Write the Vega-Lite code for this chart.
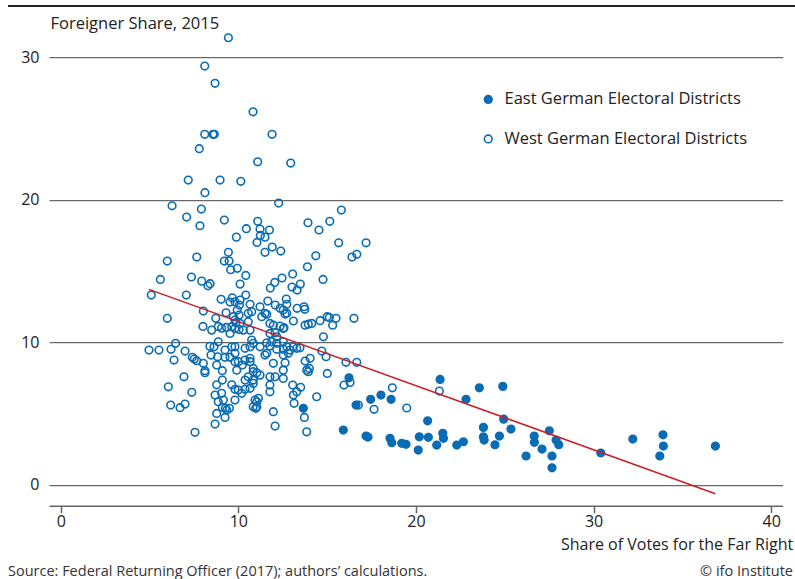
{
  "$schema": "https://vega.github.io/schema/vega-lite/v6.json",
  "width": 733.7,
  "height": 469.5,
  "autosize": {"type": "none"},
  "padding": {"left": 49, "top": 36.2, "right": 12.3, "bottom": 73.3},
  "background": "white",
  "config": {
    "view": {"stroke": null},
    "font": "Open Sans",
    "axis": {"labelFont": "Open Sans", "titleFont": "Open Sans", "labelColor": "#222", "titleColor": "#222", "titleFontWeight": "normal"},
    "legend": {"labelFont": "Open Sans"}
  },
  "datasets": {
    "pts": [
      {"vote": 9.44, "foreign": 31.39, "group": "W"},
      {"vote": 8.11, "foreign": 29.40, "group": "W"},
      {"vote": 8.69, "foreign": 28.19, "group": "W"},
      {"vote": 10.83, "foreign": 26.19, "group": "W"},
      {"vote": 8.11, "foreign": 24.61, "group": "W"},
      {"vote": 8.57, "foreign": 24.61, "group": "W"},
      {"vote": 8.65, "foreign": 24.61, "group": "W"},
      {"vote": 11.90, "foreign": 24.61, "group": "W"},
      {"vote": 7.80, "foreign": 23.60, "group": "W"},
      {"vote": 11.09, "foreign": 22.68, "group": "W"},
      {"vote": 12.95, "foreign": 22.59, "group": "W"},
      {"vote": 7.18, "foreign": 21.40, "group": "W"},
      {"vote": 8.97, "foreign": 21.40, "group": "W"},
      {"vote": 10.14, "foreign": 21.31, "group": "W"},
      {"vote": 8.12, "foreign": 20.51, "group": "W"},
      {"vote": 12.27, "foreign": 19.78, "group": "W"},
      {"vote": 6.27, "foreign": 19.59, "group": "W"},
      {"vote": 7.92, "foreign": 19.36, "group": "W"},
      {"vote": 7.09, "foreign": 18.80, "group": "W"},
      {"vote": 7.84, "foreign": 18.19, "group": "W"},
      {"vote": 9.21, "foreign": 18.59, "group": "W"},
      {"vote": 11.09, "foreign": 18.50, "group": "W"},
      {"vote": 10.45, "foreign": 17.98, "group": "W"},
      {"vote": 11.22, "foreign": 17.96, "group": "W"},
      {"vote": 11.75, "foreign": 17.89, "group": "W"},
      {"vote": 9.89, "foreign": 17.39, "group": "W"},
      {"vote": 11.24, "foreign": 17.51, "group": "W"},
      {"vote": 11.50, "foreign": 17.39, "group": "W"},
      {"vote": 11.05, "foreign": 17.02, "group": "W"},
      {"vote": 11.91, "foreign": 16.69, "group": "W"},
      {"vote": 12.39, "foreign": 16.41, "group": "W"},
      {"vote": 11.50, "foreign": 16.32, "group": "W"},
      {"vote": 13.92, "foreign": 18.40, "group": "W"},
      {"vote": 14.54, "foreign": 17.89, "group": "W"},
      {"vote": 15.15, "foreign": 18.50, "group": "W"},
      {"vote": 15.80, "foreign": 19.29, "group": "W"},
      {"vote": 15.65, "foreign": 16.99, "group": "W"},
      {"vote": 17.19, "foreign": 16.99, "group": "W"},
      {"vote": 16.40, "foreign": 15.99, "group": "W"},
      {"vote": 16.67, "foreign": 16.18, "group": "W"},
      {"vote": 14.36, "foreign": 16.08, "group": "W"},
      {"vote": 13.89, "foreign": 15.31, "group": "W"},
      {"vote": 14.77, "foreign": 14.42, "group": "W"},
      {"vote": 13.06, "foreign": 14.80, "group": "W"},
      {"vote": 13.02, "foreign": 13.88, "group": "W"},
      {"vote": 13.31, "foreign": 13.67, "group": "W"},
      {"vote": 13.49, "foreign": 14.09, "group": "W"},
      {"vote": 12.46, "foreign": 14.52, "group": "W"},
      {"vote": 12.05, "foreign": 14.21, "group": "W"},
      {"vote": 11.80, "foreign": 13.81, "group": "W"},
      {"vote": 12.70, "foreign": 13.04, "group": "W"},
      {"vote": 6.00, "foreign": 15.71, "group": "W"},
      {"vote": 5.61, "foreign": 14.42, "group": "W"},
      {"vote": 5.10, "foreign": 13.32, "group": "W"},
      {"vote": 7.66, "foreign": 15.99, "group": "W"},
      {"vote": 7.36, "foreign": 14.59, "group": "W"},
      {"vote": 7.94, "foreign": 14.30, "group": "W"},
      {"vote": 8.29, "foreign": 13.97, "group": "W"},
      {"vote": 8.41, "foreign": 14.12, "group": "W"},
      {"vote": 7.07, "foreign": 13.32, "group": "W"},
      {"vote": 9.21, "foreign": 15.71, "group": "W"},
      {"vote": 9.48, "foreign": 15.71, "group": "W"},
      {"vote": 9.44, "foreign": 16.32, "group": "W"},
      {"vote": 9.57, "foreign": 15.10, "group": "W"},
      {"vote": 9.94, "foreign": 15.20, "group": "W"},
      {"vote": 10.42, "foreign": 14.70, "group": "W"},
      {"vote": 10.10, "foreign": 14.09, "group": "W"},
      {"vote": 10.42, "foreign": 13.32, "group": "W"},
      {"vote": 9.03, "foreign": 13.02, "group": "W"},
      {"vote": 9.66, "foreign": 13.13, "group": "W"},
      {"vote": 10.10, "foreign": 12.97, "group": "W"},
      {"vote": 11.66, "foreign": 12.90, "group": "W"},
      {"vote": 9.53, "foreign": 12.83, "group": "W"},
      {"vote": 10.66, "foreign": 12.67, "group": "W"},
      {"vote": 11.22, "foreign": 12.50, "group": "W"},
      {"vote": 12.08, "foreign": 12.62, "group": "W"},
      {"vote": 12.35, "foreign": 12.39, "group": "W"},
      {"vote": 12.73, "foreign": 12.67, "group": "W"},
      {"vote": 13.31, "foreign": 12.39, "group": "W"},
      {"vote": 13.70, "foreign": 12.50, "group": "W"},
      {"vote": 13.74, "foreign": 12.32, "group": "W"},
      {"vote": 8.03, "foreign": 12.20, "group": "W"},
      {"vote": 6.00, "foreign": 11.69, "group": "W"},
      {"vote": 8.73, "foreign": 11.69, "group": "W"},
      {"vote": 9.31, "foreign": 12.08, "group": "W"},
      {"vote": 9.72, "foreign": 11.80, "group": "W"},
      {"vote": 9.94, "foreign": 12.27, "group": "W"},
      {"vote": 10.04, "foreign": 11.92, "group": "W"},
      {"vote": 9.87, "foreign": 11.38, "group": "W"},
      {"vote": 10.10, "foreign": 11.33, "group": "W"},
      {"vote": 10.56, "foreign": 11.45, "group": "W"},
      {"vote": 10.56, "foreign": 12.04, "group": "W"},
      {"vote": 11.32, "foreign": 11.80, "group": "W"},
      {"vote": 11.60, "foreign": 11.97, "group": "W"},
      {"vote": 11.97, "foreign": 11.21, "group": "W"},
      {"vote": 11.78, "foreign": 11.33, "group": "W"},
      {"vote": 12.35, "foreign": 11.14, "group": "W"},
      {"vote": 12.57, "foreign": 11.03, "group": "W"},
      {"vote": 12.63, "foreign": 11.99, "group": "W"},
      {"vote": 13.10, "foreign": 11.50, "group": "W"},
      {"vote": 14.60, "foreign": 11.52, "group": "W"},
      {"vote": 15.00, "foreign": 11.80, "group": "W"},
      {"vote": 15.12, "foreign": 11.75, "group": "W"},
      {"vote": 15.50, "foreign": 11.69, "group": "W"},
      {"vote": 15.31, "foreign": 11.21, "group": "W"},
      {"vote": 16.51, "foreign": 11.69, "group": "W"},
      {"vote": 13.76, "foreign": 11.21, "group": "W"},
      {"vote": 13.94, "foreign": 11.28, "group": "W"},
      {"vote": 14.13, "foreign": 11.33, "group": "W"},
      {"vote": 14.79, "foreign": 10.39, "group": "W"},
      {"vote": 9.81, "foreign": 12.85, "group": "W"},
      {"vote": 10.06, "foreign": 12.62, "group": "W"},
      {"vote": 10.75, "foreign": 12.15, "group": "W"},
      {"vote": 9.81, "foreign": 11.57, "group": "W"},
      {"vote": 9.63, "foreign": 11.10, "group": "W"},
      {"vote": 9.81, "foreign": 10.98, "group": "W"},
      {"vote": 10.04, "foreign": 10.91, "group": "W"},
      {"vote": 10.28, "foreign": 10.86, "group": "W"},
      {"vote": 10.66, "foreign": 10.86, "group": "W"},
      {"vote": 10.75, "foreign": 10.16, "group": "W"},
      {"vote": 8.01, "foreign": 11.12, "group": "W"},
      {"vote": 8.50, "foreign": 10.86, "group": "W"},
      {"vote": 8.87, "foreign": 11.12, "group": "W"},
      {"vote": 9.06, "foreign": 11.00, "group": "W"},
      {"vote": 9.34, "foreign": 11.05, "group": "W"},
      {"vote": 9.53, "foreign": 10.63, "group": "W"},
      {"vote": 8.87, "foreign": 10.04, "group": "W"},
      {"vote": 11.50, "foreign": 12.04, "group": "W"},
      {"vote": 12.53, "foreign": 12.27, "group": "W"},
      {"vote": 12.73, "foreign": 12.04, "group": "W"},
      {"vote": 11.78, "foreign": 10.63, "group": "W"},
      {"vote": 12.07, "foreign": 10.67, "group": "W"},
      {"vote": 12.16, "foreign": 10.39, "group": "W"},
      {"vote": 12.53, "foreign": 10.98, "group": "W"},
      {"vote": 10.84, "foreign": 9.93, "group": "W"},
      {"vote": 11.22, "foreign": 9.69, "group": "W"},
      {"vote": 11.60, "foreign": 9.97, "group": "W"},
      {"vote": 11.78, "foreign": 9.74, "group": "W"},
      {"vote": 11.88, "foreign": 10.04, "group": "W"},
      {"vote": 12.16, "foreign": 9.93, "group": "W"},
      {"vote": 12.16, "foreign": 9.51, "group": "W"},
      {"vote": 12.53, "foreign": 10.04, "group": "W"},
      {"vote": 12.53, "foreign": 9.51, "group": "W"},
      {"vote": 12.73, "foreign": 9.69, "group": "W"},
      {"vote": 12.91, "foreign": 9.46, "group": "W"},
      {"vote": 13.10, "foreign": 9.69, "group": "W"},
      {"vote": 13.29, "foreign": 9.58, "group": "W"},
      {"vote": 13.47, "foreign": 9.62, "group": "W"},
      {"vote": 11.50, "foreign": 9.11, "group": "W"},
      {"vote": 12.53, "foreign": 9.11, "group": "W"},
      {"vote": 12.82, "foreign": 9.23, "group": "W"},
      {"vote": 14.70, "foreign": 9.39, "group": "W"},
      {"vote": 14.94, "foreign": 8.99, "group": "W"},
      {"vote": 13.76, "foreign": 8.69, "group": "W"},
      {"vote": 14.04, "foreign": 8.88, "group": "W"},
      {"vote": 13.85, "foreign": 8.05, "group": "W"},
      {"vote": 13.94, "foreign": 7.94, "group": "W"},
      {"vote": 14.00, "foreign": 8.17, "group": "W"},
      {"vote": 15.01, "foreign": 7.82, "group": "W"},
      {"vote": 16.06, "foreign": 8.60, "group": "W"},
      {"vote": 16.67, "foreign": 8.60, "group": "W"},
      {"vote": 11.97, "foreign": 8.53, "group": "W"},
      {"vote": 12.63, "foreign": 8.57, "group": "W"},
      {"vote": 12.53, "foreign": 8.05, "group": "W"},
      {"vote": 12.53, "foreign": 7.47, "group": "W"},
      {"vote": 12.07, "foreign": 7.58, "group": "W"},
      {"vote": 11.78, "foreign": 7.58, "group": "W"},
      {"vote": 11.78, "foreign": 7.00, "group": "W"},
      {"vote": 11.78, "foreign": 6.53, "group": "W"},
      {"vote": 11.60, "foreign": 9.23, "group": "W"},
      {"vote": 10.66, "foreign": 8.88, "group": "W"},
      {"vote": 10.66, "foreign": 8.64, "group": "W"},
      {"vote": 10.84, "foreign": 8.17, "group": "W"},
      {"vote": 11.04, "foreign": 7.86, "group": "W"},
      {"vote": 11.22, "foreign": 7.70, "group": "W"},
      {"vote": 10.84, "foreign": 7.35, "group": "W"},
      {"vote": 10.66, "foreign": 6.77, "group": "W"},
      {"vote": 10.94, "foreign": 5.95, "group": "W"},
      {"vote": 11.13, "foreign": 6.07, "group": "W"},
      {"vote": 11.04, "foreign": 5.48, "group": "W"},
      {"vote": 11.97, "foreign": 5.13, "group": "W"},
      {"vote": 12.07, "foreign": 4.12, "group": "W"},
      {"vote": 13.06, "foreign": 7.00, "group": "W"},
      {"vote": 13.51, "foreign": 6.84, "group": "W"},
      {"vote": 13.29, "foreign": 6.53, "group": "W"},
      {"vote": 13.10, "foreign": 6.30, "group": "W"},
      {"vote": 13.14, "foreign": 5.72, "group": "W"},
      {"vote": 14.41, "foreign": 6.18, "group": "W"},
      {"vote": 13.72, "foreign": 4.73, "group": "W"},
      {"vote": 13.85, "foreign": 3.72, "group": "W"},
      {"vote": 4.97, "foreign": 9.46, "group": "W"},
      {"vote": 5.53, "foreign": 9.46, "group": "W"},
      {"vote": 6.21, "foreign": 9.51, "group": "W"},
      {"vote": 6.47, "foreign": 9.93, "group": "W"},
      {"vote": 6.38, "foreign": 8.76, "group": "W"},
      {"vote": 7.00, "foreign": 9.39, "group": "W"},
      {"vote": 7.41, "foreign": 8.95, "group": "W"},
      {"vote": 7.52, "foreign": 8.83, "group": "W"},
      {"vote": 7.66, "foreign": 8.71, "group": "W"},
      {"vote": 8.03, "foreign": 8.53, "group": "W"},
      {"vote": 8.12, "foreign": 8.01, "group": "W"},
      {"vote": 8.12, "foreign": 7.87, "group": "W"},
      {"vote": 8.63, "foreign": 9.69, "group": "W"},
      {"vote": 8.40, "foreign": 9.72, "group": "W"},
      {"vote": 8.46, "foreign": 9.11, "group": "W"},
      {"vote": 8.84, "foreign": 8.99, "group": "W"},
      {"vote": 9.25, "foreign": 8.95, "group": "W"},
      {"vote": 9.53, "foreign": 8.95, "group": "W"},
      {"vote": 9.81, "foreign": 9.23, "group": "W"},
      {"vote": 10.00, "foreign": 8.64, "group": "W"},
      {"vote": 9.81, "foreign": 8.64, "group": "W"},
      {"vote": 9.91, "foreign": 8.05, "group": "W"},
      {"vote": 10.23, "foreign": 8.41, "group": "W"},
      {"vote": 10.38, "foreign": 8.76, "group": "W"},
      {"vote": 10.66, "foreign": 9.69, "group": "W"},
      {"vote": 10.38, "foreign": 9.58, "group": "W"},
      {"vote": 9.81, "foreign": 9.69, "group": "W"},
      {"vote": 9.63, "foreign": 9.69, "group": "W"},
      {"vote": 9.25, "foreign": 9.46, "group": "W"},
      {"vote": 8.78, "foreign": 8.41, "group": "W"},
      {"vote": 9.10, "foreign": 8.01, "group": "W"},
      {"vote": 6.94, "foreign": 7.58, "group": "W"},
      {"vote": 6.06, "foreign": 6.88, "group": "W"},
      {"vote": 7.38, "foreign": 6.49, "group": "W"},
      {"vote": 6.19, "foreign": 5.60, "group": "W"},
      {"vote": 6.72, "foreign": 5.41, "group": "W"},
      {"vote": 7.00, "foreign": 5.67, "group": "W"},
      {"vote": 7.56, "foreign": 3.68, "group": "W"},
      {"vote": 8.69, "foreign": 6.30, "group": "W"},
      {"vote": 9.06, "foreign": 6.42, "group": "W"},
      {"vote": 9.16, "foreign": 5.95, "group": "W"},
      {"vote": 8.87, "foreign": 5.83, "group": "W"},
      {"vote": 9.10, "foreign": 5.44, "group": "W"},
      {"vote": 9.35, "foreign": 5.25, "group": "W"},
      {"vote": 9.27, "foreign": 5.37, "group": "W"},
      {"vote": 9.50, "foreign": 5.37, "group": "W"},
      {"vote": 8.78, "foreign": 5.01, "group": "W"},
      {"vote": 9.25, "foreign": 4.73, "group": "W"},
      {"vote": 8.69, "foreign": 4.26, "group": "W"},
      {"vote": 8.78, "foreign": 7.02, "group": "W"},
      {"vote": 9.10, "foreign": 7.35, "group": "W"},
      {"vote": 9.63, "foreign": 7.02, "group": "W"},
      {"vote": 9.81, "foreign": 6.70, "group": "W"},
      {"vote": 10.00, "foreign": 6.65, "group": "W"},
      {"vote": 10.38, "foreign": 6.70, "group": "W"},
      {"vote": 10.38, "foreign": 7.35, "group": "W"},
      {"vote": 10.56, "foreign": 7.58, "group": "W"},
      {"vote": 10.84, "foreign": 7.94, "group": "W"},
      {"vote": 10.84, "foreign": 7.12, "group": "W"},
      {"vote": 9.81, "foreign": 5.95, "group": "W"},
      {"vote": 10.19, "foreign": 6.42, "group": "W"},
      {"vote": 10.84, "foreign": 5.48, "group": "W"},
      {"vote": 11.04, "foreign": 5.83, "group": "W"},
      {"vote": 10.98, "foreign": 5.37, "group": "W"},
      {"vote": 15.95, "foreign": 7.00, "group": "W"},
      {"vote": 17.64, "foreign": 5.30, "group": "W"},
      {"vote": 16.29, "foreign": 7.19, "group": "W"},
      {"vote": 16.76, "foreign": 5.60, "group": "W"},
      {"vote": 18.67, "foreign": 6.81, "group": "W"},
      {"vote": 19.48, "foreign": 5.39, "group": "W"},
      {"vote": 21.32, "foreign": 6.58, "group": "W"},
      {"vote": 13.66, "foreign": 5.37, "group": "E"},
      {"vote": 16.23, "foreign": 7.51, "group": "E"},
      {"vote": 16.63, "foreign": 5.60, "group": "E"},
      {"vote": 17.45, "foreign": 6.00, "group": "E"},
      {"vote": 18.03, "foreign": 6.30, "group": "E"},
      {"vote": 18.60, "foreign": 6.00, "group": "E"},
      {"vote": 21.36, "foreign": 7.40, "group": "E"},
      {"vote": 23.57, "foreign": 6.81, "group": "E"},
      {"vote": 22.82, "foreign": 6.00, "group": "E"},
      {"vote": 24.89, "foreign": 6.91, "group": "E"},
      {"vote": 24.94, "foreign": 4.61, "group": "E"},
      {"vote": 25.35, "foreign": 3.91, "group": "E"},
      {"vote": 15.91, "foreign": 3.84, "group": "E"},
      {"vote": 17.19, "foreign": 3.42, "group": "E"},
      {"vote": 17.30, "foreign": 3.35, "group": "E"},
      {"vote": 18.54, "foreign": 3.26, "group": "E"},
      {"vote": 18.64, "foreign": 2.95, "group": "E"},
      {"vote": 19.20, "foreign": 2.91, "group": "E"},
      {"vote": 19.44, "foreign": 2.84, "group": "E"},
      {"vote": 20.19, "foreign": 3.37, "group": "E"},
      {"vote": 20.66, "foreign": 4.49, "group": "E"},
      {"vote": 20.70, "foreign": 3.33, "group": "E"},
      {"vote": 20.13, "foreign": 2.44, "group": "E"},
      {"vote": 21.17, "foreign": 2.79, "group": "E"},
      {"vote": 21.51, "foreign": 3.61, "group": "E"},
      {"vote": 21.55, "foreign": 3.26, "group": "E"},
      {"vote": 22.30, "foreign": 2.79, "group": "E"},
      {"vote": 22.67, "foreign": 3.02, "group": "E"},
      {"vote": 23.80, "foreign": 4.03, "group": "E"},
      {"vote": 23.80, "foreign": 3.37, "group": "E"},
      {"vote": 23.84, "foreign": 3.14, "group": "E"},
      {"vote": 24.70, "foreign": 3.42, "group": "E"},
      {"vote": 24.45, "foreign": 2.81, "group": "E"},
      {"vote": 26.66, "foreign": 3.42, "group": "E"},
      {"vote": 26.67, "foreign": 2.98, "group": "E"},
      {"vote": 26.20, "foreign": 2.02, "group": "E"},
      {"vote": 27.10, "foreign": 2.51, "group": "E"},
      {"vote": 27.51, "foreign": 3.79, "group": "E"},
      {"vote": 27.66, "foreign": 2.02, "group": "E"},
      {"vote": 27.66, "foreign": 1.19, "group": "E"},
      {"vote": 27.89, "foreign": 3.14, "group": "E"},
      {"vote": 28.04, "foreign": 2.81, "group": "E"},
      {"vote": 30.41, "foreign": 2.23, "group": "E"},
      {"vote": 32.21, "foreign": 3.21, "group": "E"},
      {"vote": 33.91, "foreign": 3.51, "group": "E"},
      {"vote": 33.93, "foreign": 2.72, "group": "E"},
      {"vote": 33.73, "foreign": 2.02, "group": "E"},
      {"vote": 36.86, "foreign": 2.72, "group": "E"}
    ],
    "fit": [
      {"vote": 4.97, "foreign": 13.72},
      {"vote": 36.86, "foreign": -0.63}
    ]
  },
  "layer": [
    {
      "data": {"name": "pts"},
      "mark": {"type": "point", "filled": true, "size": 58, "stroke": "#0a6cb4", "strokeWidth": 1.6, "opacity": 1},
      "encoding": {
        "x": {
          "field": "vote", "type": "quantitative",
          "scale": {"domain": [-0.66, 40.65], "nice": false, "zero": false},
          "axis": {
            "values": [0, 10, 20, 30, 40],
            "title": "Share of Votes for the Far Right",
            "grid": false,
            "domainColor": "#666", "domainWidth": 1.5,
            "tickColor": "#666", "tickSize": 7, "tickWidth": 1.5,
            "labelFontSize": 16, "labelPadding": 1, "labelFlush": false,
            "titleFontSize": 16, "titleAnchor": "end", "titleAlign": "right",
            "titleX": 743.7, "titleY": 43.5, "titleBaseline": "alphabetic"
          }
        },
        "y": {
          "field": "foreign", "type": "quantitative",
          "scale": {"domain": [-1.47, 31.5], "nice": false, "zero": false},
          "axis": {
            "values": [0, 10, 20, 30],
            "title": "Foreigner Share, 2015",
            "grid": true, "gridColor": "#444", "gridWidth": 1,
            "domain": false, "ticks": false,
            "labelPadding": 10, "labelFontSize": 16,
            "titleAngle": 0, "titleAlign": "left", "titleFontSize": 16.5,
            "titleX": 1, "titleY": -7.5, "titleBaseline": "alphabetic"
          }
        },
        "fill": {
          "field": "group", "type": "nominal",
          "scale": {"domain": ["E", "W"], "range": ["#0a6cb4", "transparent"]},
          "legend": {
            "title": null, "orient": "none", "legendX": 431, "legendY": 55,
            "labelExpr": "datum.value == 'E' ? 'East German Electoral Districts' : 'West German Electoral Districts'",
            "labelFontSize": 16.5, "labelColor": "#222", "labelOffset": 8, "labelLimit": 0,
            "symbolType": "circle", "symbolSize": 60,
            "symbolStrokeColor": "#0a6cb4", "symbolStrokeWidth": 1.6,
            "rowPadding": 22.5
          }
        }
      }
    },
    {
      "data": {"name": "fit"},
      "mark": {"type": "line", "color": "#c8202a", "strokeWidth": 1.5},
      "encoding": {
        "x": {"field": "vote", "type": "quantitative"},
        "y": {"field": "foreign", "type": "quantitative"}
      }
    },
    {
      "data": {"values": [{}]},
      "mark": {"type": "rule", "color": "#222", "strokeWidth": 2},
      "encoding": {
        "x": {"datum": -2.97, "type": "quantitative"},
        "x2": {"datum": 41.35},
        "y": {"datum": 33.62, "type": "quantitative"}
      }
    },
    {
      "data": {"values": [{}]},
      "mark": {"type": "text", "align": "left", "baseline": "alphabetic", "fontSize": 14.5, "color": "#333"},
      "encoding": {
        "x": {"datum": -2.97, "type": "quantitative"},
        "y": {"datum": -6.41, "type": "quantitative"},
        "text": {"value": "Source: Federal Returning Officer (2017); authors’ calculations."}
      }
    },
    {
      "data": {"values": [{}]},
      "mark": {"type": "text", "align": "right", "baseline": "alphabetic", "fontSize": 14.5, "color": "#333"},
      "encoding": {
        "x": {"datum": 41.23, "type": "quantitative"},
        "y": {"datum": -6.41, "type": "quantitative"},
        "text": {"value": "©  ifo Institute"}
      }
    }
  ]
}
